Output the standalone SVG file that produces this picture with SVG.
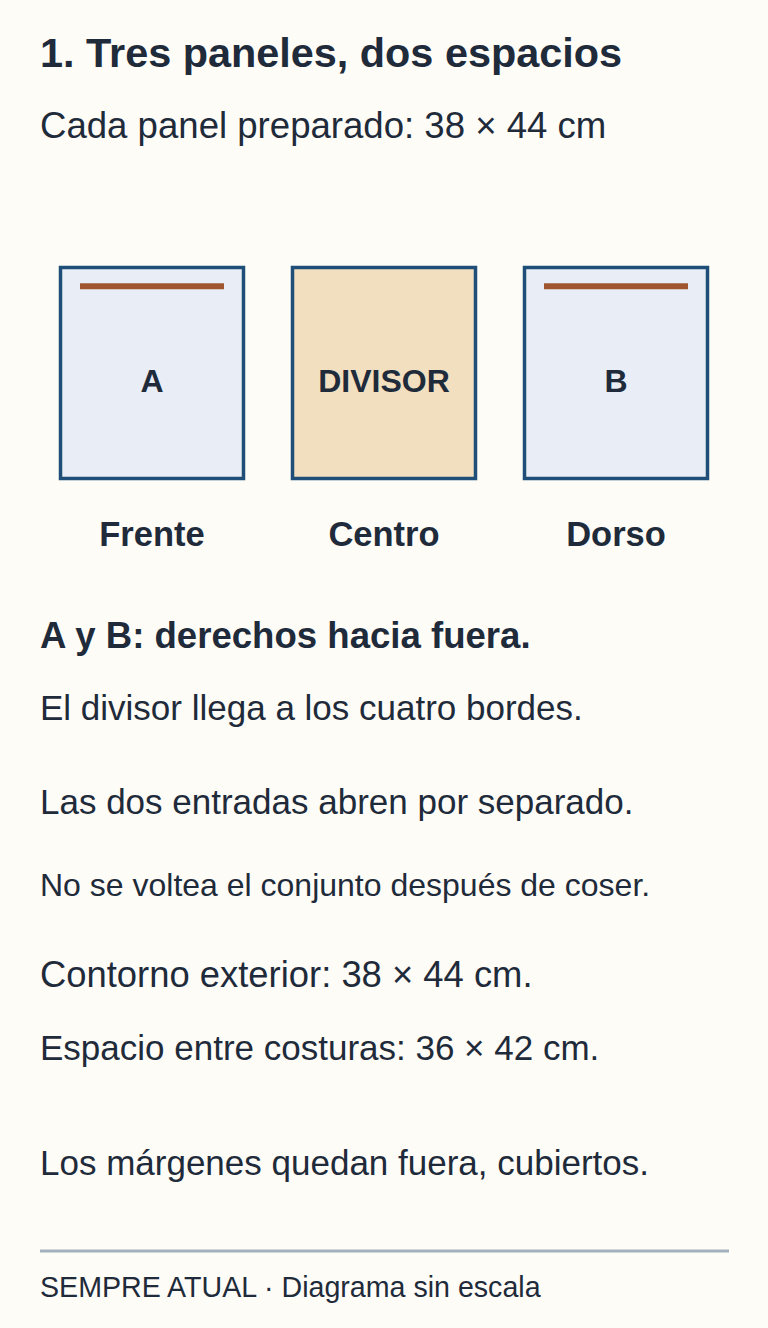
<svg xmlns="http://www.w3.org/2000/svg" width="768" height="1328" viewBox="0 0 768 1328">
<style>
text{font-family:"Liberation Sans",Arial,sans-serif;fill:#1f2b3a}
.b{font-weight:700}
.panel{stroke:#1f4f78;stroke-width:3.5}
.out{fill:#e9eef6}
.div{fill:#f2dfbf}
.bar{stroke:#a0572f;stroke-width:6}
.lbl{font-size:32px;font-weight:700;text-anchor:middle}
.cap{font-size:34.5px;font-weight:700;text-anchor:middle}
</style>
<rect width="768" height="1328" fill="#fdfcf7"/>
<g id="header">
<text class="b" x="40" y="67" font-size="41.4">1. Tres paneles, dos espacios</text>
<text x="40" y="138" font-size="36.6">Cada panel preparado: 38 × 44 cm</text>
</g>
<g id="panel-a">
<rect class="panel out" x="60.5" y="267.5" width="183" height="211"/>
<line class="bar" x1="80" y1="286.3" x2="224" y2="286.3"/>
<text class="lbl" x="152" y="392">A</text>
<text class="cap" x="152" y="546">Frente</text>
</g>
<g id="panel-divisor">
<rect class="panel div" x="292.5" y="267.5" width="183" height="211"/>
<text class="lbl" x="384" y="392">DIVISOR</text>
<text class="cap" x="384" y="546">Centro</text>
</g>
<g id="panel-b">
<rect class="panel out" x="524.5" y="267.5" width="183" height="211"/>
<line class="bar" x1="544" y1="286.3" x2="688" y2="286.3"/>
<text class="lbl" x="616" y="392">B</text>
<text class="cap" x="616" y="546">Dorso</text>
</g>
<g id="connectors"/>
<g id="notes">
<text class="b" x="40" y="648" font-size="36.6">A y B: derechos hacia fuera.</text>
<text x="40" y="720" font-size="35">El divisor llega a los cuatro bordes.</text>
<text x="40" y="813.5" font-size="35">Las dos entradas abren por separado.</text>
<text x="40" y="896" font-size="32">No se voltea el conjunto después de coser.</text>
<text x="40" y="986.5" font-size="36.4">Contorno exterior: 38 × 44 cm.</text>
<text x="40" y="1059.5" font-size="35">Espacio entre costuras: 36 × 42 cm.</text>
<text x="40" y="1175" font-size="35">Los márgenes quedan fuera, cubiertos.</text>
</g>
<g id="footer">
<line x1="40" y1="1251" x2="729" y2="1251" stroke="#a3b1bf" stroke-width="3"/>
<text x="40" y="1297" font-size="28.6">SEMPRE ATUAL · Diagrama sin escala</text>
</g>
</svg>
